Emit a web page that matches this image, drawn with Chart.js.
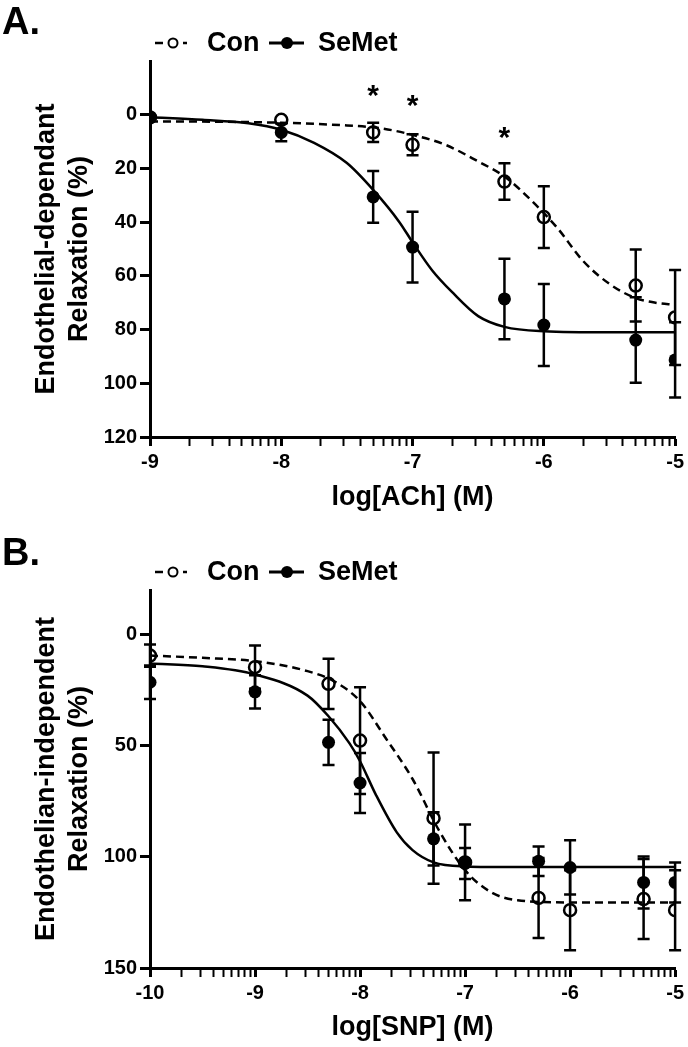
<!DOCTYPE html>
<html><head><meta charset="utf-8">
<script src="https://cdn.jsdelivr.net/npm/chart.js@4.4.1/dist/chart.umd.min.js"></script>
<style>
html,body{margin:0;padding:0;background:#fff;}
#wrap{position:relative;width:688px;height:1047px;overflow:hidden;background:#fff;}
#cA{position:absolute;left:0;top:0;}
#cB{position:absolute;left:0;top:520px;}
</style></head><body>
<div id="wrap"><canvas id="cA" width="688" height="520"></canvas><canvas id="cB" width="688" height="527"></canvas></div>
<script>
// ---------- shared ----------
const seriesNames = ['Con', 'SeMet'];

// ---------- Panel A (ACh) ----------
const doseA      = [-9, -8, -7.3, -7, -6.3, -6, -5.3, -5];
const conA       = [1, 1.9, 6.6, 11.2, 24.9, 38.1, 63.6, 75.5];
const conSemA    = [0, 0, 3.6, 3.9, 6.8, 11.5, 13.4, 17.7];
const semetA     = [0.9, 6.6, 30.6, 49.3, 68.6, 78.3, 83.9, 91.3];
const semetSemA  = [0, 3.3, 9.6, 13.2, 15, 15.3, 15.9, 14];
const conFitXA   = [-9, -8.5, -8, -7.5, -7.25, -7, -6.75, -6.5, -6.3, -6.1, -5.9, -5.7, -5.5, -5.3, -5.15, -5];
const conFitYA   = [2.5, 2.6, 3, 4, 5, 7.5, 11.2, 17.4, 23, 31.7, 42, 54.5, 63, 68.3, 70, 70.8];
const semetFitXA = [-9, -8.6, -8.25, -8, -7.75, -7.5, -7.3, -7.1, -7, -6.85, -6.7, -6.5, -6.3, -6, -5.5, -5];
const semetFitYA = [0.9, 1.9, 3.2, 5.6, 10.5, 18, 28, 40, 47.5, 58, 66, 75, 79, 80.6, 81, 81];
const starXA     = [-7.3, -7, -6.3];
const starYA     = [-10, -6.2, 5.6];
const xTickValsA   = [-9, -8, -7, -6, -5];
const xTickLabelsA = ['-9', '-8', '-7', '-6', '-5'];
const yTickValsA   = [0, 20, 40, 60, 80, 100, 120];
const yTickLabelsA = ['0', '20', '40', '60', '80', '100', '120'];
const yTitleA = ['Endothelial-dependant', 'Relaxation (%)'];
const xTitleA = 'log[ACh] (M)';

// ---------- Panel B (SNP) ----------
const doseB      = [-10, -9, -8.3, -8, -7.3, -7, -6.3, -6, -5.3, -5];
const conB       = [9.5, 14.7, 22.2, 47.7, 82.6, 102.5, 118.5, 124, 119, 124];
const conSemB    = [5, 9.7, 11.3, 24, 29.5, 17, 18, 18, 18, 18];
const semetB     = [21.5, 25.8, 48.5, 66.8, 91.9, 103, 102, 104.8, 111.5, 111.5];
const semetSemB  = [7.5, 7.5, 10.2, 13.5, 12, 7, 6.6, 12.2, 11.7, 9];
const conFitXB   = [-10, -9.5, -9, -8.5, -8.25, -8, -7.75, -7.5, -7.25, -7, -6.75, -6.5, -6, -5.5, -5];
const conFitYB   = [9.5, 10.5, 12, 16.5, 21, 30, 47, 65, 88, 106, 116, 119.5, 120.5, 120.5, 120.5];
const semetFitXB = [-10, -9.5, -9, -8.5, -8.3, -8.1, -8, -7.85, -7.65, -7.5, -7.3, -7, -6.5, -6, -5];
const semetFitYB = [13, 14.3, 18, 27.5, 36.8, 49, 57, 72, 89, 97, 102.5, 104.3, 104.6, 104.6, 104.6];
const xTickValsB   = [-10, -9, -8, -7, -6, -5];
const xTickLabelsB = ['-10', '-9', '-8', '-7', '-6', '-5'];
const yTickValsB   = [0, 50, 100, 150];
const yTickLabelsB = ['0', '50', '100', '150'];
const yTitleB = ['Endothelian-independent', 'Relaxation (%)'];
const xTitleB = 'log[SNP] (M)';

const FONT = "'Liberation Sans', Arial, Helvetica, sans-serif";
Chart.defaults.font.family = FONT;
Chart.defaults.color = '#000';

function pts(xs, ys) { return xs.map((x, i) => ({ x: x, y: ys[i] })); }
function withMinors(majors) {
  const out = majors.slice();
  for (let i = 0; i < majors.length - 1; i++) {
    for (let k = 2; k <= 9; k++) out.push(majors[i] + Math.log10(k));
  }
  return out.sort((a, b) => a - b);
}

const panels = {
  cA: {
    letter: 'A.', letterY: 34, legendY: 43,
    bars: [{ x: doseA, y: conA, e: conSemA }, { x: doseA, y: semetA, e: semetSemA }],
    stars: { x: starXA, y: starYA }
  },
  cB: {
    letter: 'B.', letterY: 45, legendY: 52,
    bars: [{ x: doseB, y: conB, e: conSemB }, { x: doseB, y: semetB, e: semetSemB }],
    stars: { x: [], y: [] }
  }
};

const overlay = {
  id: 'overlay',
  afterDatasetsDraw(chart) {
    const cfg = panels[chart.canvas.id];
    const ctx = chart.ctx, xs = chart.scales.x, ys = chart.scales.y;
    ctx.save();
    ctx.strokeStyle = '#000';
    ctx.lineWidth = 2.5;
    ctx.lineCap = 'butt';
    cfg.bars.forEach(b => {
      b.x.forEach((xv, i) => {
        const e = b.e[i];
        if (!e) return;
        const px = xs.getPixelForValue(xv);
        const y1 = ys.getPixelForValue(b.y[i] - e);
        const y2 = ys.getPixelForValue(b.y[i] + e);
        ctx.beginPath();
        ctx.moveTo(px, y1); ctx.lineTo(px, y2);
        ctx.moveTo(px - 6, y1); ctx.lineTo(px + 6, y1);
        ctx.moveTo(px - 6, y2); ctx.lineTo(px + 6, y2);
        ctx.stroke();
      });
    });
    ctx.fillStyle = '#000';
    ctx.font = 'bold 30px ' + FONT;
    ctx.textAlign = 'center';
    ctx.textBaseline = 'alphabetic';
    cfg.stars.x.forEach((xv, i) => {
      const px = xs.getPixelForValue(xv);
      const py = ys.getPixelForValue(cfg.stars.y[i]);
      ctx.fillText('*', px, py + 0.57 * 30);
    });
    ctx.restore();
  },
  afterDraw(chart) {
    const cfg = panels[chart.canvas.id];
    const ctx = chart.ctx;
    const y = cfg.legendY;
    ctx.save();
    ctx.fillStyle = '#000';
    ctx.strokeStyle = '#000';
    // panel letter
    ctx.font = 'bold 38px ' + FONT;
    ctx.textAlign = 'left';
    ctx.textBaseline = 'alphabetic';
    ctx.fillText(cfg.letter, 2, cfg.letterY);
    // legend: Con (dashed + open circle)
    ctx.lineWidth = 2.5;
    ctx.beginPath();
    ctx.moveTo(155, y); ctx.lineTo(163, y);
    ctx.moveTo(183, y); ctx.lineTo(187, y);
    ctx.stroke();
    ctx.lineWidth = 2;
    ctx.beginPath(); ctx.arc(173, y, 4.5, 0, Math.PI * 2); ctx.stroke();
    // legend: SeMet (solid + filled circle)
    ctx.lineWidth = 3;
    ctx.beginPath(); ctx.moveTo(269, y); ctx.lineTo(304, y); ctx.stroke();
    ctx.beginPath(); ctx.arc(287, y, 6, 0, Math.PI * 2); ctx.fill();
    ctx.font = 'bold 27px ' + FONT;
    ctx.textBaseline = 'middle';
    ctx.fillText(chart.data.datasets[0].label, 207, y + 1);
    ctx.fillText(chart.data.datasets[1].label, 318, y + 1);
    ctx.restore();
  }
};

function makeChart(id, o) {
  const xAll = withMinors(o.xMajors);
  return new Chart(document.getElementById(id), {
    type: 'scatter',
    data: {
      datasets: [
        { label: seriesNames[0], data: pts(o.dose, o.con), showLine: false,
          pointRadius: 6, pointHoverRadius: 6, pointBorderWidth: 2.5,
          pointBorderColor: '#000', pointBackgroundColor: 'rgba(0,0,0,0)', order: 1 },
        { label: seriesNames[1], data: pts(o.dose, o.semet), showLine: false,
          pointRadius: 6.5, pointHoverRadius: 6.5, pointBorderWidth: 0,
          pointBorderColor: '#000', pointBackgroundColor: '#000', order: 1 },
        { label: seriesNames[0] + ' fit', data: pts(o.conFitX, o.conFitY), showLine: true,
          borderColor: '#000', borderWidth: 2.5, borderDash: [8, 5], pointRadius: 0,
          cubicInterpolationMode: 'monotone', fill: false, order: 2 },
        { label: seriesNames[1] + ' fit', data: pts(o.semetFitX, o.semetFitY), showLine: true,
          borderColor: '#000', borderWidth: 2.5, pointRadius: 0,
          cubicInterpolationMode: 'monotone', fill: false, order: 2 }
      ]
    },
    options: {
      responsive: false, animation: false, devicePixelRatio: 1,
      layout: { padding: { top: o.top, right: 11, left: 0, bottom: 0 } },
      plugins: { legend: { display: false }, tooltip: { enabled: false }, title: { display: false } },
      scales: {
        x: {
          type: 'linear', min: o.xMin, max: o.xMax,
          afterFit: s => { s.height = o.xh; },
          afterBuildTicks: s => { s.ticks = xAll.map(v => ({ value: v })); },
          ticks: {
            autoSkip: false, maxRotation: 0, minRotation: 0, padding: 4, color: '#000',
            font: { size: 20, weight: 'bold' },
            callback: v => { const i = o.xMajors.indexOf(v); return i >= 0 ? o.xLabels[i] : ''; }
          },
          grid: {
            display: true, drawOnChartArea: false, drawTicks: true, tickLength: 9,
            tickColor: '#000',
            tickWidth: c => (c.tick && o.xMajors.indexOf(c.tick.value) >= 0) ? 3 : 2
          },
          border: { display: true, color: '#000', width: 3 },
          title: { display: true, text: o.xTitle, color: '#000',
                   font: { size: 27, weight: 'bold', lineHeight: '33px' },
                   padding: { top: 0, bottom: o.xtPad } }
        },
        y: {
          type: 'linear', reverse: true, min: o.yMin, max: o.yMax,
          afterFit: s => { s.width = 150; },
          afterBuildTicks: s => { s.ticks = o.yVals.map(v => ({ value: v })); },
          ticks: {
            autoSkip: false, padding: 3, color: '#000',
            font: { size: 20, weight: 'bold' },
            callback: v => { const i = o.yVals.indexOf(v); return i >= 0 ? o.yLabels[i] : ''; }
          },
          grid: {
            display: true, drawOnChartArea: false, drawTicks: true, tickLength: 10,
            tickColor: '#000', tickWidth: 3
          },
          border: { display: true, color: '#000', width: 3 },
          title: { display: true, text: o.yTitle, color: '#000',
                   font: { size: 27, weight: 'bold', lineHeight: '33px' },
                   padding: { top: 30, bottom: 0 } }
        }
      }
    },
    plugins: [overlay]
  });
}

makeChart('cA', {
  dose: doseA, con: conA, semet: semetA,
  conFitX: conFitXA, conFitY: conFitYA, semetFitX: semetFitXA, semetFitY: semetFitYA,
  xMajors: xTickValsA, xLabels: xTickLabelsA, xMin: -9, xMax: -5,
  yVals: yTickValsA, yLabels: yTickLabelsA, yMin: -20, yMax: 120,
  xTitle: xTitleA, yTitle: yTitleA, top: 61, xh: 83, xtPad: 6
});
makeChart('cB', {
  dose: doseB, con: conB, semet: semetB,
  conFitX: conFitXB, conFitY: conFitYB, semetFitX: semetFitXB, semetFitY: semetFitYB,
  xMajors: xTickValsB, xLabels: xTickLabelsB, xMin: -10, xMax: -5,
  yVals: yTickValsB, yLabels: yTickLabelsB, yMin: -20, yMax: 150,
  xTitle: xTitleB, yTitle: yTitleB, top: 70, xh: 79, xtPad: 3
});
</script>
</body></html>
